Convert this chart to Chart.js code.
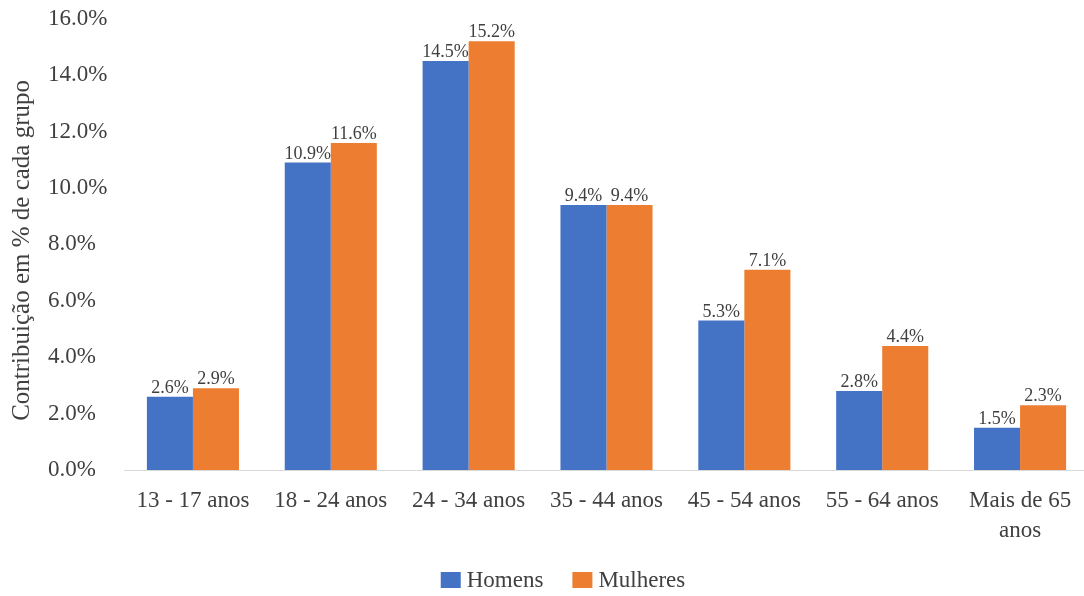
<!DOCTYPE html>
<html>
<head>
<meta charset="utf-8">
<script src="https://cdn.jsdelivr.net/npm/chart.js@4"></script>
<style>
  html, body { margin: 0; padding: 0; background: #fff; overflow: hidden; }
  #wrap { width: 1126px; height: 596px; }
</style>
</head>
<body>
<div id="wrap"><canvas id="c" width="1126" height="596"></canvas></div>
<script>
// Faixas etárias
const categories = [
  '13 - 17 anos', '18 - 24 anos', '24 - 34 anos', '35 - 44 anos',
  '45 - 54 anos', '55 - 64 anos', ['Mais de 65', 'anos']
];
// Contribuição (%) de cada grupo
const homens   = [2.6, 10.9, 14.5, 9.4, 5.3, 2.8, 1.5];
const mulheres = [2.9, 11.6, 15.2, 9.4, 7.1, 4.4, 2.3];
const seriesNames = ['Homens', 'Mulheres'];
const yTicks = [0, 2, 4, 6, 8, 10, 12, 14, 16];
const yTitle = 'Contribuição em % de cada grupo';

const SERIF = "'Liberation Serif', 'Times New Roman', serif";
const BLUE = '#4472C4';
const ORANGE = '#ED7D31';
const TEXT = '#404040';

// Value labels above each bar
const valueLabels = {
  id: 'valueLabels',
  afterDatasetsDraw(chart) {
    const ctx = chart.ctx;
    ctx.save();
    ctx.font = `18px ${SERIF}`;
    ctx.fillStyle = TEXT;
    ctx.textAlign = 'center';
    ctx.textBaseline = 'alphabetic';
    chart.data.datasets.forEach((ds, i) => {
      chart.getDatasetMeta(i).data.forEach((bar, j) => {
        ctx.fillText(ds.data[j].toFixed(1) + '%', bar.x, bar.y - 4);
      });
    });
    ctx.restore();
  }
};

// Rotated title of the value axis, at the far left
const axisTitle = {
  id: 'axisTitle',
  afterDraw(chart) {
    const ctx = chart.ctx;
    const area = chart.chartArea;
    ctx.save();
    ctx.translate(22, (area.top + area.bottom) / 2 + 6);
    ctx.rotate(-Math.PI / 2);
    ctx.font = `25px ${SERIF}`;
    ctx.fillStyle = TEXT;
    ctx.textAlign = 'center';
    ctx.textBaseline = 'middle';
    ctx.fillText(yTitle, 0, 0);
    ctx.restore();
  }
};

// Legend row under the axis
const bottomLegend = {
  id: 'bottomLegend',
  afterDraw(chart) {
    const ctx = chart.ctx;
    ctx.save();
    ctx.font = `23px ${SERIF}`;
    const boxW = 20, boxH = 16, gap = 6, spacing = 29;
    const items = chart.data.datasets.map(ds => ({
      label: ds.label, color: ds.backgroundColor, w: ctx.measureText(ds.label).width
    }));
    const total = items.reduce((s, it) => s + boxW + gap + it.w, 0) + spacing * (items.length - 1);
    let x = chart.width / 2 - total / 2;
    const cy = 580;
    ctx.textBaseline = 'middle';
    ctx.textAlign = 'left';
    items.forEach(it => {
      ctx.fillStyle = it.color;
      ctx.fillRect(x, cy - boxH / 2, boxW, boxH);
      x += boxW + gap;
      ctx.fillStyle = TEXT;
      ctx.fillText(it.label, x, cy + 1);
      x += it.w + spacing;
    });
    ctx.restore();
  }
};

new Chart(document.getElementById('c'), {
  type: 'bar',
  data: {
    labels: categories,
    datasets: [
      { label: seriesNames[0], data: homens, backgroundColor: BLUE },
      { label: seriesNames[1], data: mulheres, backgroundColor: ORANGE }
    ]
  },
  options: {
    responsive: false,
    devicePixelRatio: 1,
    animation: false,
    layout: { padding: { top: 0, right: 37, bottom: 0, left: 48 } },
    datasets: { bar: { categoryPercentage: 0.668, barPercentage: 1.0 } },
    plugins: {
      legend: { display: false },
      tooltip: { enabled: false }
    },
    scales: {
      x: {
        grid: { display: false },
        border: { display: true, color: '#d9d9d9', width: 1 },
        ticks: {
          color: TEXT,
          font: { family: SERIF, size: 23, lineHeight: 1.3 },
          padding: 8,
          maxRotation: 0,
          autoSkip: false
        },
        afterFit(scale) { scale.height = 126; }
      },
      y: {
        min: 0,
        max: 16,
        grid: { display: false },
        border: { display: false },
        afterBuildTicks(scale) { scale.ticks = yTicks.map(v => ({ value: v })); },
        ticks: {
          color: TEXT,
          font: { family: SERIF, size: 23 },
          crossAlign: 'far',
          padding: 5,
          callback: v => v.toFixed(1) + '%'
        },
        afterFit(scale) { scale.width = 76; }
      }
    }
  },
  plugins: [valueLabels, axisTitle, bottomLegend]
});
</script>
</body>
</html>
